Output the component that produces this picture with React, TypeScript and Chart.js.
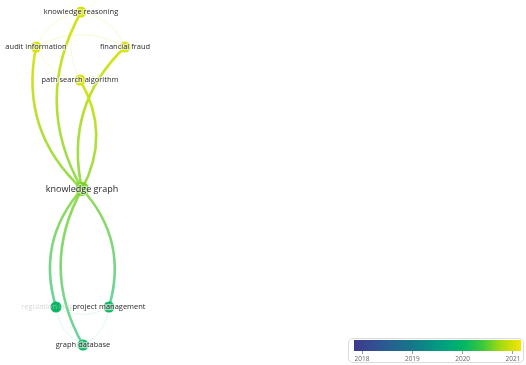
import React, { useEffect, useRef } from "react";
import { Chart, registerables } from "chart.js";
Chart.register(...registerables);

// ---- network data (VOSviewer-style overlay map) ----
const terms = [
  "knowledge graph",
  "knowledge reasoning",
  "audit information",
  "financial fraud",
  "path search algorithm",
  "project management",
  "regulation language",
  "graph database",
];
const termX = [82, 81, 36, 125, 80, 109, 56, 83];
const termY = [189, 12, 47, 47, 80, 307, 307, 345];
const occurrences = [8, 2, 2, 2, 2, 2, 2, 2];
const avgYear = [2020.6, 2021, 2021, 2021, 2021, 2020.05, 2020.05, 2020.05];

// links (source index -> target index) and link strength
const linkSource = [0, 0, 0, 4, 6, 7, 0, 2, 2, 1, 4, 4, 3, 5, 5, 7];
const linkTarget = [1, 2, 3, 0, 0, 0, 5, 3, 1, 3, 1, 2, 4, 6, 7, 6];
const linkStrength = [3, 3, 3, 3, 3, 3, 3, 1, 1, 1, 1, 1, 1, 1, 1, 1];

// colour scale (overlay years)
const scaleMin = 2017.84;
const scaleMax = 2021.16;
const scaleTicks = [2018, 2019, 2020, 2021];
const stopYears = [2017.84, 2018.4, 2019, 2019.6, 2020, 2020.4, 2020.75, 2021.16];
const stopColors: [number, number, number][] = [
  [60, 58, 140],
  [44, 88, 146],
  [20, 120, 138],
  [0, 160, 128],
  [0, 181, 102],
  [60, 200, 60],
  [165, 218, 16],
  [246, 229, 0],
];

function yearRGB(y: number): [number, number, number] {
  if (y <= stopYears[0]) return stopColors[0];
  for (let i = 1; i < stopYears.length; i++) {
    if (y <= stopYears[i]) {
      const t = (y - stopYears[i - 1]) / (stopYears[i] - stopYears[i - 1]);
      const a = stopColors[i - 1];
      const b = stopColors[i];
      return [0, 1, 2].map((k) => Math.round(a[k] + (b[k] - a[k]) * t)) as [number, number, number];
    }
  }
  return stopColors[stopColors.length - 1];
}
const rgba = (c: [number, number, number], a: number) => `rgba(${c[0]},${c[1]},${c[2]},${a})`;
const lighten = (c: [number, number, number], m: number) =>
  [0, 1, 2].map((k) => Math.round(c[k] + (255 - c[k]) * m)) as [number, number, number];

const FONT = "'Open Sans', 'Noto Sans', sans-serif";

const linkPlugin = {
  id: "links",
  beforeDatasetsDraw(chart: any) {
    const { ctx } = chart;
    const xs = chart.scales.x;
    const ys = chart.scales.y;
    ctx.save();
    ctx.lineCap = "round";
    const order = linkSource.map((_, i) => i).sort((a, b) => linkStrength[a] - linkStrength[b]);
    const endColor = (idx: number) => {
      const c = yearRGB(avgYear[idx]);
      const m = Math.max(0, Math.min(0.4, (2021 - avgYear[idx]) * 0.36));
      return lighten(c, m);
    };
    for (const i of order) {
      const s = linkSource[i];
      const t = linkTarget[i];
      const ax = xs.getPixelForValue(termX[s]);
      const ay = ys.getPixelForValue(termY[s]);
      const bx = xs.getPixelForValue(termX[t]);
      const by = ys.getPixelForValue(termY[t]);
      const dx = bx - ax;
      const dy = by - ay;
      const k = 0.28;
      const cx = (ax + bx) / 2 + dy * k;
      const cy = (ay + by) / 2 - dx * k;
      const strong = linkStrength[i] >= 2;
      const alpha = strong ? 0.92 : 0.18;
      const g = ctx.createLinearGradient(ax, ay, bx, by);
      g.addColorStop(0, rgba(endColor(s), alpha));
      g.addColorStop(1, rgba(endColor(t), alpha));
      ctx.strokeStyle = g;
      ctx.lineWidth = strong ? 2.6 : 1;
      ctx.beginPath();
      ctx.moveTo(ax, ay);
      ctx.quadraticCurveTo(cx, cy, bx, by);
      ctx.stroke();
    }
    ctx.restore();
  },
};

const labelPlugin = {
  id: "labels",
  afterDatasetsDraw(chart: any) {
    const { ctx } = chart;
    const xs = chart.scales.x;
    const ys = chart.scales.y;
    ctx.save();
    ctx.textAlign = "center";
    ctx.textBaseline = "middle";
    const order = terms.map((_, i) => i).sort((a, b) => occurrences[b] - occurrences[a] || a - b);
    const boxes: { l: number; r: number; t: number; b: number }[] = [];
    const items: { i: number; faded: boolean; size: number }[] = [];
    for (const i of order) {
      const size = 7 + occurrences[i] * 0.25;
      ctx.font = `${size}px ${FONT}`;
      const w = ctx.measureText(terms[i]).width;
      const px = xs.getPixelForValue(termX[i]);
      const py = ys.getPixelForValue(termY[i]);
      const box = { l: px - w / 2, r: px + w / 2, t: py - size / 2, b: py + size / 2 };
      const faded = boxes.some((o) => box.l < o.r && box.r > o.l && box.t < o.b && box.b > o.t);
      if (!faded) boxes.push(box);
      items.push({ i, faded, size });
    }
    const drawItem = (it: { i: number; faded: boolean; size: number }) => {
      const px = xs.getPixelForValue(termX[it.i]);
      const py = ys.getPixelForValue(termY[it.i]);
      ctx.font = `${it.size}px ${FONT}`;
      if (!it.faded) {
        ctx.lineWidth = 2.5;
        ctx.strokeStyle = "rgba(255,255,255,0.55)";
        ctx.lineJoin = "round";
        ctx.strokeText(terms[it.i], px, py);
      }
      ctx.fillStyle = it.faded ? "rgba(200,200,200,0.7)" : "#2a2a2a";
      ctx.fillText(terms[it.i], px, py);
    };
    items.filter((it) => it.faded).forEach(drawItem);
    items.filter((it) => !it.faded).forEach(drawItem);
    ctx.restore();
  },
};

const gradientPlugin = {
  id: "gradientBar",
  beforeDatasetsDraw(chart: any) {
    const { ctx, chartArea } = chart;
    const g = ctx.createLinearGradient(chartArea.left, 0, chartArea.right, 0);
    stopYears.forEach((y, i) => {
      g.addColorStop((y - scaleMin) / (scaleMax - scaleMin), rgba(stopColors[i], 1));
    });
    ctx.save();
    ctx.fillStyle = g;
    ctx.fillRect(chartArea.left, chartArea.top, chartArea.right - chartArea.left, chartArea.bottom - chartArea.top);
    ctx.restore();
  },
};

export default function App() {
  const netRef = useRef<HTMLCanvasElement>(null);
  const barRef = useRef<HTMLCanvasElement>(null);

  useEffect(() => {
    const net = new Chart(netRef.current!, {
      type: "scatter",
      data: {
        datasets: [
          {
            data: terms.map((_, i) => ({ x: termX[i], y: termY[i] })),
            pointRadius: occurrences.map((o) => 5 + o * 0.25),
            pointBackgroundColor: avgYear.map((y) => rgba(yearRGB(y), 1)),
            pointBorderWidth: 0,
            pointHoverRadius: 0,
            clip: false as any,
          },
        ],
      },
      options: {
        animation: false,
        responsive: true,
        maintainAspectRatio: false,
        events: [],
        layout: { padding: 0, autoPadding: false },
        plugins: { legend: { display: false }, tooltip: { enabled: false } },
        scales: {
          x: { type: "linear", min: 0, max: 526, display: false },
          y: { type: "linear", min: 0, max: 365, reverse: true, display: false },
        },
      },
      plugins: [linkPlugin, labelPlugin],
    });

    const bar = new Chart(barRef.current!, {
      type: "scatter",
      data: { datasets: [{ data: [] }] },
      options: {
        animation: false,
        responsive: true,
        maintainAspectRatio: false,
        events: [],
        layout: { padding: { left: 5, right: 2, top: 1, bottom: 0 }, autoPadding: false },
        plugins: { legend: { display: false }, tooltip: { enabled: false } },
        scales: {
          x: {
            type: "linear",
            min: scaleMin,
            max: scaleMax,
            position: "bottom",
            afterBuildTicks: (axis: any) => {
              axis.ticks = scaleTicks.map((v) => ({ value: v }));
            },
            ticks: {
              autoSkip: false,
              maxRotation: 0,
              padding: 1,
              color: "#666",
              font: { size: 6.5, family: FONT },
              callback: (v: any) => String(v),
            },
            grid: { drawOnChartArea: false, drawTicks: true, tickLength: 3, color: "#999" },
            border: { display: false },
          },
          y: { display: false, min: 0, max: 1 },
        },
      },
      plugins: [gradientPlugin],
    });

    return () => {
      net.destroy();
      bar.destroy();
    };
  }, []);

  return (
    <div style={{ position: "absolute", left: 0, top: 0, width: 526, height: 365, background: "#fff" }}>
      <div style={{ position: "absolute", left: 0, top: 0, width: 526, height: 365 }}>
        <canvas ref={netRef} />
      </div>
      <div
        style={{
          position: "absolute",
          left: 348,
          top: 338,
          width: 176,
          height: 25,
          border: "1px solid #dcdcdc",
          borderRadius: 5,
          boxSizing: "border-box",
        }}
      >
        <canvas ref={barRef} />
      </div>
    </div>
  );
}
